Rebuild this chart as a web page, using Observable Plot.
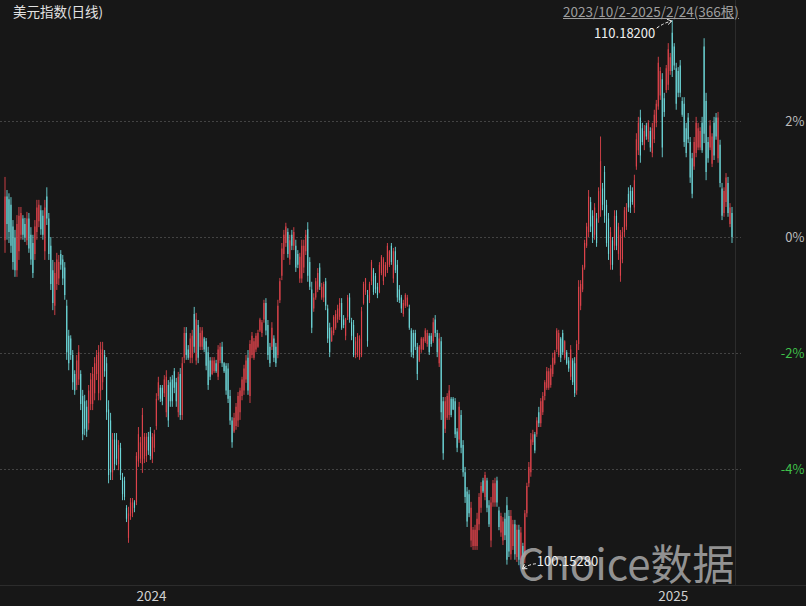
<!DOCTYPE html>
<html><head><meta charset="utf-8">
<script src="https://cdn.jsdelivr.net/npm/d3@7"></script>
<script src="https://cdn.jsdelivr.net/npm/@observablehq/plot@0.6"></script>
<style>
html,body{margin:0;padding:0;background:#171717;}
#wrap{position:relative;width:806px;height:606px;overflow:hidden;background:#171717;font-family:"Noto Sans CJK SC","Noto Sans",sans-serif;}
#chart svg{display:block;}
#title{position:absolute;left:13px;top:1px;font-size:13.5px;color:#e2e2e2;white-space:nowrap;}
#range{position:absolute;left:563px;top:1px;font-size:13.5px;color:#9e9e9e;text-decoration:underline;white-space:nowrap;}
.vsep{position:absolute;left:735px;top:0;width:1px;height:585px;background:#2c2c2c;}
.hsep{position:absolute;left:0;top:585px;width:806px;height:1px;background:#2c2c2c;}
</style></head>
<body>
<div id="wrap">
  <div id="chart"></div>
  <div class="vsep"></div><div class="hsep"></div>
  <div id="title"></div>
  <div id="range"></div>
</div>
<script>
const chartTitle = "美元指数(日线)";
const rangeText = "2023/10/2-2025/2/24(366根)";
const yTicks = [2, 0, -2, -4];
const yearLabels = ["2024", "2025"];
const yearStartIndex = [66, 328];
const watermark = "Choice数据";

const open = [106.15,106.95,106.90,106.80,106.40,106.20,105.60,105.95,106.25,106.55,
106.45,106.15,106.55,106.25,106.10,105.90,106.30,106.50,106.70,106.60,
105.95,106.95,106.55,106.05,105.60,104.95,105.35,105.45,105.90,105.80,
105.65,104.95,104.40,104.35,104.05,103.70,103.50,103.60,103.70,103.30,
103.20,103.10,102.80,103.15,103.15,103.35,103.70,103.35,103.40,103.55,
104.05,103.90,103.05,102.85,101.90,102.50,102.50,102.05,102.35,101.80,
101.75,101.25,100.70,101.10,101.15,101.35,101.35,102.10,102.15,102.05,
102.15,102.20,102.55,102.65,102.15,102.35,102.75,103.30,103.45,103.45,
103.35,103.00,103.50,103.55,103.60,103.75,103.55,103.00,103.70,102.95,
104.00,104.45,104.15,104.00,104.00,104.80,103.95,104.60,104.20,104.20,
104.35,104.30,104.10,103.95,103.70,103.75,103.90,103.65,103.95,104.20,
103.90,103.85,103.80,103.30,102.85,102.65,102.75,102.85,103.00,103.30,
103.40,103.60,104.00,103.30,104.05,104.00,104.15,104.20,104.50,104.45,
104.70,105.00,104.60,104.20,104.20,104.35,104.20,104.05,105.05,105.50,
105.90,106.10,106.30,105.80,106.25,106.05,106.05,105.90,105.45,105.45,
105.65,105.95,106.35,105.75,105.25,104.90,105.10,105.25,105.65,105.10,
105.10,105.40,104.90,104.55,104.30,104.45,104.55,104.70,104.75,105.00,
104.70,104.40,104.75,105.10,104.65,104.60,104.05,104.05,104.00,104.05,
105.00,105.20,105.15,105.05,105.40,105.60,105.50,105.30,105.20,105.55,
105.40,105.50,105.60,105.70,106.05,105.45,105.95,105.70,105.25,105.10,
104.80,104.95,104.95,104.90,104.50,104.45,104.45,104.20,103.95,104.15,
104.15,104.30,104.25,104.40,104.40,104.30,104.70,104.45,103.90,104.30,
103.20,102.70,102.90,102.95,103.25,103.25,103.20,102.65,102.50,102.95,
102.40,101.90,101.55,101.50,100.65,100.55,100.55,100.55,100.95,101.25,
101.75,101.45,101.75,101.30,100.65,101.35,101.35,101.75,101.20,100.80,
100.65,101.05,101.30,101.10,100.40,100.55,100.95,100.35,100.85,100.30,
100.55,100.35,101.15,101.70,101.90,102.45,102.60,102.60,103.00,102.80,
103.00,103.30,103.45,103.45,103.50,103.70,103.90,104.15,104.05,104.35,
104.45,104.00,104.10,103.95,103.65,103.95,103.90,103.40,104.25,104.95,
105.25,105.65,106.05,106.30,106.85,106.60,106.25,106.55,106.55,106.70,
107.10,107.40,106.80,106.55,105.70,106.15,106.05,106.60,105.90,105.50,
105.80,106.30,106.40,107.00,107.05,107.05,106.75,107.50,107.80,108.40,
108.20,107.90,108.25,108.00,108.15,107.75,108.00,108.30,108.60,108.80,
109.10,108.75,108.90,109.00,109.25,109.95,109.70,109.30,109.25,109.35,
108.70,108.65,108.20,108.40,107.95,107.65,107.50,107.75,107.85,107.85,
108.30,109.70,108.70,107.95,107.85,107.55,108.30,108.40,107.65,107.90,
107.10,106.65,106.85,107.20,106.45,106.65];

const high = [107.31,107.07,107.01,106.94,106.52,106.34,106.61,106.76,106.76,106.61,
106.56,106.67,106.65,106.39,106.25,106.52,106.89,106.89,106.79,106.70,
106.89,107.12,106.65,106.21,105.79,105.75,105.92,105.88,105.97,105.88,
105.75,105.06,104.51,104.41,104.14,103.77,104.05,104.23,103.77,103.41,
103.32,103.22,103.50,103.72,103.83,104.01,104.14,104.23,104.29,104.29,
104.14,104.01,103.22,102.99,102.62,102.62,102.62,102.49,102.44,101.89,
101.82,101.30,101.27,101.43,101.43,101.39,102.27,102.73,102.55,103.08,
102.62,102.62,102.64,102.73,102.62,102.68,103.35,103.65,103.50,103.50,
103.68,103.77,103.59,103.65,103.68,103.81,103.63,103.74,103.81,104.01,
104.56,104.56,104.23,104.45,104.51,104.93,104.82,104.69,104.56,104.56,
104.38,104.36,104.20,104.01,104.01,104.01,103.96,104.23,104.27,104.29,
103.92,103.90,103.90,103.41,102.91,102.99,103.17,103.37,103.45,103.65,
103.87,104.05,104.14,104.32,104.47,104.36,104.45,104.51,104.73,104.69,
105.06,105.09,104.69,104.27,104.65,104.41,104.27,105.06,105.46,106.10,
106.34,106.47,106.37,106.25,106.34,106.39,106.16,105.97,105.92,106.16,
106.16,106.34,106.48,105.84,105.39,105.18,105.46,105.64,105.73,105.37,
105.39,105.46,104.97,104.64,104.56,104.78,104.87,104.97,105.09,105.09,
104.78,104.73,105.15,105.18,104.73,104.69,104.38,104.45,104.41,104.93,
105.39,105.46,105.24,105.39,105.79,105.64,105.55,105.37,105.75,105.88,
105.84,105.75,106.10,105.97,106.10,106.01,106.03,105.79,105.33,105.15,
105.06,105.18,105.15,104.97,104.54,104.51,104.51,104.27,104.23,104.38,
104.38,104.54,104.51,104.45,104.45,104.73,104.78,104.51,104.45,104.38,
103.28,103.28,103.35,103.50,103.28,103.28,103.26,102.71,103.19,103.04,
102.49,102.00,101.63,101.58,101.36,100.90,100.94,101.16,101.52,101.72,
101.80,101.91,101.80,101.39,101.45,101.76,101.80,101.82,101.27,101.16,
101.08,101.16,101.45,101.21,101.21,101.03,101.03,100.94,100.94,100.90,
100.61,101.21,101.71,102.09,102.62,102.68,102.64,102.91,103.10,103.26,
103.37,103.59,103.83,103.81,103.87,104.09,104.14,104.54,104.51,104.38,
104.51,104.32,104.14,104.01,104.23,103.99,104.01,104.32,105.42,105.42,
105.70,106.16,106.47,107.07,106.94,106.70,106.83,106.65,107.12,108.05,
107.20,107.51,106.89,106.65,106.39,106.21,106.70,106.70,106.47,106.34,
106.39,106.76,106.83,107.12,107.16,107.12,107.35,108.11,108.41,108.54,
108.30,108.26,108.30,108.35,108.22,108.30,108.54,108.72,109.51,109.32,
109.21,108.85,109.36,109.76,109.58,110.182,109.76,109.40,109.32,109.45,
108.77,108.77,108.30,108.48,108.04,107.75,108.04,108.41,108.30,108.22,
108.41,109.85,108.85,108.04,108.35,108.11,108.41,108.48,108.50,107.99,
107.20,107.12,107.38,107.31,106.83,106.76];

const low = [105.92,106.16,106.10,105.92,105.61,105.48,105.48,105.79,106.16,106.16,
106.12,106.06,105.92,105.70,105.46,105.79,106.16,106.39,106.25,106.16,
105.79,106.43,105.79,105.24,104.87,104.78,105.24,105.33,105.61,105.33,
105.06,103.96,103.77,103.96,103.41,103.32,103.41,103.50,103.04,102.49,
102.58,102.55,102.68,103.04,103.04,103.22,103.59,103.22,103.22,103.41,
103.65,102.86,101.70,101.76,101.76,101.94,102.03,101.94,101.76,101.39,
101.39,100.99,100.61,101.03,101.08,101.17,101.30,102.00,102.07,101.89,
102.07,102.09,102.22,102.13,102.07,102.27,102.68,103.22,103.19,103.13,
103.28,102.91,102.73,103.10,103.10,103.35,103.10,102.91,102.86,102.86,
103.90,103.96,103.96,103.90,103.90,104.09,103.87,103.90,104.14,104.14,
104.10,103.77,103.41,103.59,103.68,103.72,103.72,103.59,103.90,103.83,
103.72,103.32,103.17,102.77,102.35,102.62,102.68,102.73,102.86,103.22,
103.32,103.54,103.32,103.17,103.99,103.96,104.10,104.18,104.47,104.38,
104.64,104.41,103.96,103.83,104.14,103.92,103.83,103.99,105.00,105.42,
105.79,106.03,105.83,105.70,105.97,105.97,105.57,105.64,105.37,105.37,
105.55,105.88,105.39,105.24,104.45,104.84,105.06,105.20,105.24,105.06,
105.02,104.87,104.27,104.01,104.29,104.41,104.51,104.64,104.69,104.51,
104.54,104.32,104.69,104.64,104.32,104.01,103.99,104.01,103.96,104.01,
104.97,105.15,104.20,105.00,105.33,105.15,105.18,105.09,105.18,105.51,
105.33,105.48,105.55,105.66,105.70,105.37,105.55,105.02,105.00,104.82,
104.75,104.91,104.93,104.51,104.01,103.99,104.14,103.59,103.92,104.09,
104.14,104.27,104.20,104.05,104.20,104.27,104.38,104.01,103.83,102.86,
102.13,102.62,102.86,102.86,102.91,103.04,102.53,102.27,102.44,102.25,
101.82,101.34,100.90,101.08,100.53,100.48,100.48,100.48,100.84,101.16,
101.52,101.39,101.17,100.90,100.53,101.27,101.27,101.27,100.84,100.72,
100.57,100.66,100.21,100.35,100.30,100.48,100.30,100.26,100.20,100.22,
100.1528,100.24,101.08,101.63,101.82,102.40,102.25,102.55,102.73,102.73,
102.95,103.22,103.41,103.41,103.45,103.65,103.87,104.10,104.01,103.92,
104.05,103.96,103.87,103.74,103.59,103.50,103.28,103.32,104.14,104.87,
105.20,105.61,106.01,106.21,106.30,106.10,106.16,106.03,106.47,106.58,
106.70,106.47,106.03,105.79,105.61,105.61,105.97,105.97,105.79,105.39,
105.73,106.21,106.34,106.67,106.65,106.80,106.65,107.44,107.71,107.57,
107.89,107.80,107.99,107.95,107.77,107.67,107.93,108.22,108.54,108.72,
107.67,108.41,108.85,108.90,109.18,109.14,109.27,108.54,108.77,108.77,
108.41,107.86,107.67,107.93,107.20,106.92,107.44,107.67,107.80,107.80,
107.75,107.93,107.25,107.57,107.80,107.49,107.62,107.99,107.57,107.12,
106.52,106.58,106.76,106.58,106.39,106.10];

const close = [106.95,106.45,106.30,106.05,105.75,105.60,106.45,106.60,106.65,106.25,
106.20,106.55,106.00,105.80,105.55,106.40,106.75,106.80,106.35,106.25,
106.75,106.55,105.90,105.35,105.00,105.55,105.80,105.75,105.70,105.45,
105.15,104.10,103.90,104.05,103.55,103.40,103.95,104.10,103.15,102.60,
102.70,102.65,103.40,103.60,103.70,103.90,104.05,104.10,104.15,104.15,
103.75,103.00,101.85,101.90,102.50,102.05,102.15,102.40,101.85,101.50,
101.45,101.05,101.15,101.35,101.35,101.25,102.20,102.60,102.45,102.95,
102.55,102.55,102.30,102.20,102.55,102.60,103.25,103.55,103.25,103.20,
103.60,103.65,102.85,103.20,103.20,103.45,103.20,103.65,102.95,103.90,
104.45,104.05,104.00,104.35,104.40,104.20,104.70,104.00,104.45,104.50,
104.15,103.85,103.50,103.65,103.95,103.95,103.75,104.15,104.20,103.90,
103.75,103.40,103.25,102.85,102.45,102.90,103.10,103.30,103.40,103.60,
103.80,103.95,103.40,104.25,104.40,104.30,104.40,104.45,104.70,104.65,
105.00,104.50,104.05,103.90,104.55,104.00,103.90,104.95,105.40,106.00,
106.25,106.40,105.90,106.15,106.05,106.30,105.65,105.70,105.85,106.05,
106.05,106.25,105.50,105.30,104.55,105.10,105.40,105.55,105.30,105.30,
105.35,104.95,104.35,104.10,104.50,104.75,104.80,104.90,105.00,104.55,
104.60,104.70,105.10,104.70,104.40,104.05,104.30,104.40,104.35,104.85,
105.35,105.45,104.30,105.35,105.75,105.20,105.25,105.15,105.70,105.85,
105.80,105.70,106.05,105.95,105.75,105.95,105.60,105.10,105.05,104.90,
105.00,105.15,105.10,104.55,104.10,104.05,104.20,103.70,104.20,104.35,
104.35,104.50,104.45,104.10,104.25,104.65,104.45,104.10,104.35,103.00,
102.25,103.20,103.30,103.40,102.95,103.05,102.60,102.35,103.10,102.35,
101.90,101.45,101.00,101.15,101.25,100.85,100.85,101.05,101.45,101.65,
101.55,101.85,101.25,100.95,101.35,101.70,101.70,101.35,100.90,101.10,
101.00,100.75,100.30,100.45,101.10,100.95,100.40,100.85,100.30,100.80,
100.35,101.15,101.65,102.00,102.50,102.60,102.30,102.85,102.80,103.20,
103.30,103.55,103.75,103.75,103.80,104.00,104.10,104.50,104.45,104.00,
104.10,104.30,103.90,103.80,104.15,103.55,103.35,104.25,105.30,105.35,
105.65,106.10,106.40,106.95,106.40,106.20,106.75,106.10,107.05,107.60,
106.80,106.60,106.10,105.90,106.30,105.70,106.60,106.05,106.40,106.25,
106.30,106.70,106.75,106.75,106.75,106.85,107.25,108.00,108.30,107.70,
107.95,108.15,108.05,108.30,107.85,108.20,108.45,108.65,109.40,109.25,
107.85,108.50,109.30,109.65,109.50,109.25,109.35,108.65,108.85,108.85,
108.45,107.95,107.75,108.00,107.30,107.00,107.95,108.30,108.20,108.15,
107.80,108.10,107.40,107.65,108.25,108.05,107.70,108.05,108.40,107.20,
106.60,107.05,107.30,106.65,106.75,106.21];

const RED = "#dc434b", CYAN = "#6cd5d7", GREEN = "#3fc14a";
const base = close[close.length - 1];
const pct = v => (v / base - 1) * 100;

const n = Math.min(open.length, high.length, low.length, close.length);
const candles = d3.range(n).map(i => ({
  i, o: pct(open[i]), h: pct(high[i]), l: pct(low[i]), c: pct(close[i]),
  col: close[i] >= open[i] ? RED : CYAN
}));
const maxIdx = d3.maxIndex(high.slice(0, n));
const minIdx = d3.minIndex(low.slice(0, n));

document.getElementById("title").textContent = chartTitle;
document.getElementById("range").textContent = rangeText;

const chart = Plot.plot({
  width: 806, height: 606,
  marginTop: 0, marginRight: 2, marginBottom: 21, marginLeft: 0,
  x: {type: "linear", domain: [0, 365], range: [4.5, 731.5], axis: null},
  y: {type: "linear", domain: [-6, 4.086], range: [585, 0], axis: null},
  color: {type: "identity"},
  style: {background: "#171717", fontFamily: '"Noto Sans CJK SC","Noto Sans",sans-serif', overflow: "visible"},
  marks: [
    Plot.ruleY(yTicks, {stroke: "#444", strokeDasharray: "2,2", insetRight: 63}),
    Plot.ruleX(candles, {x: "i", y1: "l", y2: "h", stroke: "col", strokeWidth: 0.9}),
    Plot.ruleX(candles, {x: "i", y1: "o", y2: "c", stroke: "col", strokeWidth: 1.15}),
    Plot.text(yTicks, {y: d => d, text: d => `${d}%`, frameAnchor: "right", textAnchor: "end",
      fill: d => d < 0 ? GREEN : "#bdbdbd", fontSize: 13}),
    Plot.text(yearLabels, {x: (d, k) => yearStartIndex[k], text: d => d, frameAnchor: "bottom", dy: 15,
      textAnchor: "start", fill: "#d0d0d0", fontSize: 13.5}),
    Plot.text([watermark], {text: d => d, frameAnchor: "bottom-right", dx: -70, dy: -6, textAnchor: "end",
      lineAnchor: "bottom", fontSize: 42, fill: "#a9a9a9", fillOpacity: 0.85}),
    Plot.text([maxIdx], {x: d => d, y: d => pct(high[d]), text: d => high[d].toFixed(5),
      dx: -17, dy: 13, textAnchor: "end", fill: "#f0f0f0", fontSize: 13}),
    Plot.text([minIdx], {x: d => d, y: d => pct(low[d]), text: d => low[d].toFixed(5),
      dx: 14, dy: -6, textAnchor: "start", fill: "#f0f0f0", fontSize: 13})
  ]
});
document.getElementById("chart").appendChild(chart);

// dashed pointer arrows to the extreme candles
const sx = chart.scale("x"), sy = chart.scale("y");
const g = d3.select(chart).append("g").attr("fill", "none").attr("stroke", "#f0f0f0").attr("stroke-width", 1);
function pointer(tx, ty, ox, oy) {
  const x0 = tx + ox, y0 = ty + oy;
  const mx = (x0 + tx) / 2, my = (y0 + ty) / 2 - 2;
  g.append("path").attr("d", `M${x0},${y0}Q${mx},${my} ${tx},${ty}`).attr("stroke-dasharray", "3,2");
  const ang = Math.atan2(ty - my, tx - mx), L = 5;
  const a1 = ang + Math.PI * 0.82, a2 = ang - Math.PI * 0.82;
  g.append("path").attr("d",
    `M${tx + L * Math.cos(a1)},${ty + L * Math.sin(a1)}L${tx},${ty}L${tx + L * Math.cos(a2)},${ty + L * Math.sin(a2)}`);
}
pointer(sx.apply(maxIdx), sy.apply(pct(high[maxIdx])) + 1, -15, 7);
pointer(sx.apply(minIdx), sy.apply(pct(low[minIdx])) + 1, 13.5, -5);

if (open.length !== 366 || high.length !== 366 || low.length !== 366 || close.length !== 366) {
  console.error("length mismatch", open.length, high.length, low.length, close.length);
}
</script>
</body></html>
